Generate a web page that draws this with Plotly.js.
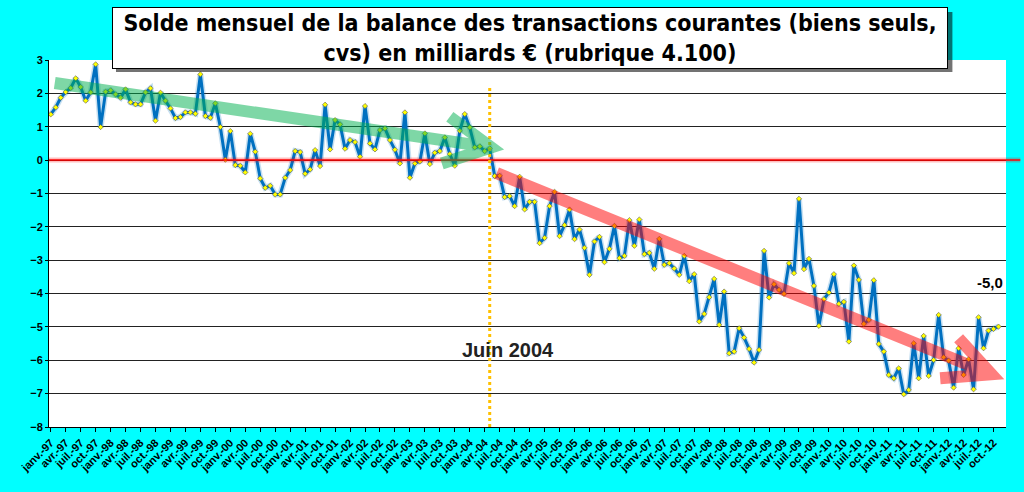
<!DOCTYPE html>
<html>
<head>
<meta charset="utf-8">
<script src="https://cdn.plot.ly/plotly-3.0.1.min.js"></script>
<style>
  html, body { margin: 0; padding: 0; background: #00FFFF; }
  #myDiv { width: 1024px; height: 492px; }
</style>
</head>
<body>
<div id="myDiv"></div>
<script>
// solde mensuel, janv-97 .. nov-12, milliards d'euros
var solde = [
  1.37, 1.58, 1.87, 2.04, 2.16, 2.45, 2.19, 1.78, 2.03, 2.87,
  0.99, 2.05, 2.09, 1.97, 1.87, 2.12, 1.73, 1.67, 1.67, 2.03,
  2.15, 1.18, 2.02, 1.78, 1.55, 1.26, 1.29, 1.43, 1.43, 1.39,
  2.57, 1.32, 1.27, 1.70, 0.99, 0.01, 0.87, -0.15, -0.17, -0.37,
  0.79, 0.25, -0.55, -0.83, -0.77, -1.03, -1.03, -0.53, -0.30,
  0.27, 0.24, -0.41, -0.28, 0.30, -0.18, 1.66, 0.32, 1.20, 1.07,
  0.34, 0.60, 0.54, 0.10, 1.62, 0.50, 0.32, 0.90, 0.95, 0.60,
  0.31, -0.10, 1.43, -0.53, -0.10, -0.04, 0.80, -0.12, 0.22, 0.27,
  0.68, 0.18, -0.17, 0.88, 1.38, 0.98, 0.38, 0.41, 0.27, 0.35,
  -0.48, -0.47,
  -1.11, -1.08, -1.38, -0.50, -1.48, -1.25, -1.25, -2.49, -2.33, -1.38,
  -0.95, -2.28, -1.95, -1.48, -2.37, -2.08, -2.63, -3.44, -2.44, -2.30,
  -3.06, -2.66, -1.97, -2.94, -2.87, -1.80, -2.57, -1.78, -2.82, -2.78,
  -3.26, -2.36, -3.14, -3.09, -3.25, -3.44, -2.87, -3.63, -3.42,
  -4.84, -4.61, -4.11, -3.56, -4.94, -3.94, -5.79, -5.74, -5.04, -5.32,
  -5.66, -6.07, -5.69, -2.72, -4.12, -3.72, -3.89, -4.01, -3.09, -3.39,
  -1.16, -3.27, -2.96, -3.77, -4.97, -4.17, -3.97, -3.42, -4.31, -4.25,
  -5.44, -3.16, -3.59, -4.91, -4.79, -3.60, -5.51,
  -5.74, -6.44, -6.54, -6.24, -7.02, -6.89, -5.49, -6.54, -5.27, -6.47,
  -5.99, -4.64, -5.91, -6.01, -6.82, -5.64, -6.44, -5.97, -6.87, -4.71,
  -5.64, -5.11, -5.06, -4.99
];

var moisLabels = ['janv.', 'avr.', 'juil.', 'oct.'];
var annees = ['97', '98', '99', '00', '01', '02', '03', '04',
              '05', '06', '07', '08', '09', '10', '11', '12'];

var mois = solde.map(function (v, i) { return i; });

var tickVals = [], tickText = [];
annees.forEach(function (a, ia) {
  moisLabels.forEach(function (m, im) {
    tickVals.push(ia * 12 + im * 3);
    tickText.push(m + '-' + a);
  });
});

var halo = {
  x: mois, y: solde, type: 'scatter', mode: 'lines',
  line: {color: 'rgba(0,112,192,0.22)', width: 6},
  hoverinfo: 'skip'
};

var serie = {
  x: mois, y: solde, type: 'scatter', mode: 'lines+markers',
  name: 'Solde mensuel',
  line: {color: '#0070C0', width: 3},
  marker: {symbol: 'diamond', size: 4, color: '#FFFF00',
           line: {color: '#555', width: 0.6}}
};

var layout = {
  width: 1024,
  height: 492,
  paper_bgcolor: '#00FFFF',
  plot_bgcolor: '#FFFFFF',
  showlegend: false,
  margin: {l: 49, r: 18, t: 60, b: 65},
  font: {family: 'Liberation Sans, Arial, sans-serif', color: '#000'},
  xaxis: {
    range: [-0.35, 191.5],
    tickvals: tickVals,
    ticktext: tickText,
    tickangle: -45,
    tickfont: {size: 11, weight: 'bold'},
    ticks: 'outside', ticklen: 4, tickcolor: '#000',
    showgrid: false, zeroline: false,
    showline: true, linecolor: '#000', linewidth: 1
  },
  yaxis: {
    range: [-8, 3],
    dtick: 1,
    tickfont: {size: 11, weight: 'bold'},
    ticks: 'outside', ticklen: 3, tickcolor: '#000',
    showgrid: true, gridcolor: '#222', gridwidth: 1,
    zeroline: false,
    showline: true, linecolor: '#000', linewidth: 1
  },
  shapes: [
    // ligne zero
    {type: 'line', xref: 'paper', yref: 'y', x0: 0, x1: 1.015, y0: 0, y1: 0,
     line: {color: 'rgba(255,0,0,0.25)', width: 5}, layer: 'above'},
    {type: 'line', xref: 'paper', yref: 'y', x0: 0, x1: 1.015, y0: 0, y1: 0,
     line: {color: '#FF0000', width: 1.5}, layer: 'above'},
    // juin 2004
    {type: 'line', xref: 'x', yref: 'y', x0: 88, x1: 88, y0: -8, y1: 2.25,
     line: {color: '#FFC000', width: 3, dash: 'dot'}, layer: 'above'},
    // fleche verte
    {type: 'path', xref: 'x', yref: 'y', layer: 'above', opacity: 0.5,
     path: 'M 0.8,2.31 L 88.3,0.38 M 80,1.3 L 88.3,0.38 L 78.4,-0.1',
     line: {color: '#00B050', width: 12}},
    // fleche rouge
    {type: 'path', xref: 'x', yref: 'y', layer: 'above', opacity: 0.5,
     path: 'M 89.4,-0.39 L 188.6,-6.42 M 182,-5.34 L 188.6,-6.42 L 178.3,-6.54',
     line: {color: '#FF0000', width: 12}},
    // ombre du titre
    {type: 'rect', xref: 'paper', yref: 'paper', layer: 'above',
     x0: 0.070, x1: 0.944, y0: 0.967, y1: 1.131,
     fillcolor: 'rgba(0,0,0,0.55)', line: {width: 0}}
  ],
  annotations: [
    {
      xref: 'paper', yref: 'paper', x: 0.5028, y: 1.06,
      xanchor: 'center', yanchor: 'middle',
      text: 'Solde mensuel de la balance des transactions courantes (biens seuls,<br>cvs) en milliards € (rubrique 4.100)',
      showarrow: false, align: 'center',
      width: 830, height: 56, borderpad: 2,
      bgcolor: '#FFFFFF', bordercolor: '#000', borderwidth: 1,
      font: {family: 'Liberation Sans Narrow, DejaVu Sans Condensed, Arial Narrow, sans-serif',
             size: 23, weight: 'bold', color: '#000'}
    },
    {
      xref: 'x', yref: 'y', x: 91.7, y: -5.69,
      text: 'Juin 2004', showarrow: false,
      font: {size: 20, weight: 'bold', color: '#222'}
    },
    {
      xref: 'x', yref: 'y', x: 188.2, y: -3.67,
      text: '-5,0', showarrow: false,
      font: {size: 15, weight: 'bold', color: '#000'}
    }
  ]
};

Plotly.newPlot('myDiv', [halo, serie], layout, {displayModeBar: false});
</script>
</body>
</html>
